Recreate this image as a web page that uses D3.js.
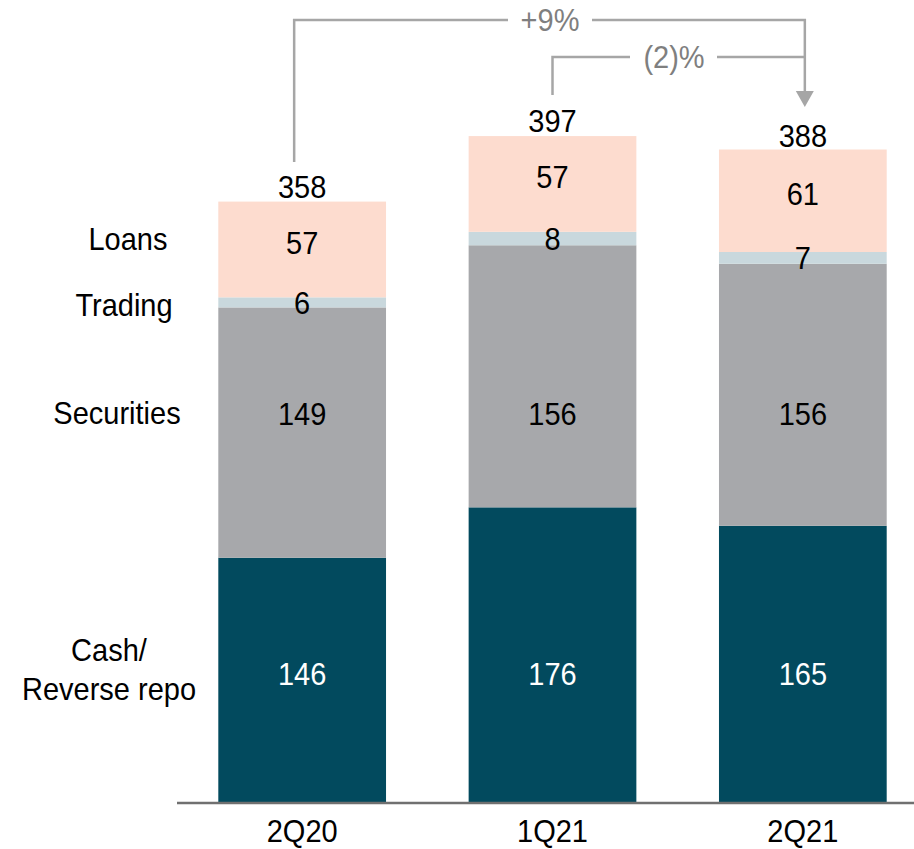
<!DOCTYPE html>
<html>
<head>
<meta charset="utf-8">
<script src="https://cdn.jsdelivr.net/npm/d3@7"></script>
<style>
  body { margin: 0; background: #fff; }
  text { font-family: "Liberation Sans", Arial, sans-serif; }
</style>
</head>
<body>
<div id="chart"></div>
<script>
// Categories and series (bottom to top)
var quarters = ["2Q20", "1Q21", "2Q21"];
var cash = [146, 176, 165];
var securities = [149, 156, 156];
var trading = [6, 8, 7];
var loans = [57, 57, 61];
// reported totals (rounded, so 2Q21 is not the plain sum)
var totals = [358, 397, 388];
var seriesNames = ["Cash/\nReverse repo", "Securities", "Trading", "Loans"];
var seriesColors = ["#024a5e", "#a7a8ab", "#c9d8dd", "#fddccf"];
var changeLabels = ["+9%", "(2)%"];

var svgWidth = 914;
var svgHeight = 849;
var fontSize = "29px";
var stretchY = 1.08;

var svg = d3.select("#chart")
  .append("svg")
  .attr("width", svgWidth)
  .attr("height", svgHeight);

// text in the source is a bit taller than plain Arial, stretch it about its anchor
function stretch(sel) {
  sel.attr("transform", function () {
    var x = +d3.select(this).attr("x") || 0;
    var y = +d3.select(this).attr("y") || 0;
    return `translate(${x},${y}) scale(1,${stretchY}) translate(${-x},${-y})`;
  });
}

// Build rows for the stack
var rows = quarters.map(function (q, i) {
  return { quarter: q, s0: cash[i], s1: securities[i], s2: trading[i], s3: loans[i] };
});
var keys = ["s0", "s1", "s2", "s3"];
var stacked = d3.stack().keys(keys)(rows);

// Scales
var xScale = d3.scaleBand()
  .domain(quarters)
  .range([177, 928])
  .paddingInner(0.33)
  .paddingOuter(0.165);

var yScale = d3.scaleLinear()
  .domain([0, 478])
  .range([803, 0]);

// Bars
var layers = svg.selectAll("g.layer")
  .data(stacked)
  .enter()
  .append("g")
  .attr("class", "layer")
  .attr("fill", (d, i) => seriesColors[i]);

layers.selectAll("rect")
  .data(d => d)
  .enter()
  .append("rect")
  .attr("x", d => xScale(d.data.quarter))
  .attr("y", d => yScale(d[1]))
  .attr("width", xScale.bandwidth())
  .attr("height", d => yScale(d[0]) - yScale(d[1]));

// Value labels: cash & securities sit in the band shared by all bars,
// trading & loans sit in the middle of their own segment
var labelShift = [-7, 6, 0, -7];
stacked.forEach(function (layer, i) {
  var commonLow = d3.max(layer, d => d[0]);
  var commonHigh = d3.min(layer, d => d[1]);
  svg.append("g").selectAll("text")
    .data(layer)
    .enter()
    .append("text")
    .attr("x", d => xScale(d.data.quarter) + xScale.bandwidth() / 2)
    .attr("y", function (d) {
      var mid = i < 2 ? (commonLow + commonHigh) / 2 : (d[0] + d[1]) / 2;
      return yScale(mid) + labelShift[i];
    })
    .attr("dy", "0.36em")
    .attr("text-anchor", "middle")
    .style("font-size", fontSize)
    .style("fill", i === 0 ? "#ffffff" : "#000000")
    .text(d => d.data[keys[i]])
    .call(stretch);
});

// Totals above bars
svg.append("g").selectAll("text")
  .data(rows)
  .enter()
  .append("text")
  .attr("x", d => xScale(d.quarter) + xScale.bandwidth() / 2)
  .attr("y", (d, i) => yScale(totals[i]) - 4)
  .attr("text-anchor", "middle")
  .style("font-size", fontSize)
  .style("fill", "#000")
  .text((d, i) => totals[i])
  .call(stretch);

// Bottom axis
var bottomAxis = d3.axisBottom(xScale).tickSize(0).tickPadding(17);
var axisG = svg.append("g")
  .attr("transform", `translate(0, ${yScale(0)})`)
  .call(bottomAxis);
axisG.select(".domain")
  .attr("d", "M177,0H914")
  .attr("stroke", "#707070")
  .attr("stroke-width", 2.5);
axisG.selectAll("text")
  .style("font-size", fontSize)
  .style("fill", "#000")
  .attr("font-family", null)
  .call(stretch);

// Series names on the left, level with the 2Q20 labels
var nameX = [109, 117, 124, 128];
var nameY = [669, 413, 305, 239];
seriesNames.forEach(function (name, i) {
  var lines = name.split("\n");
  var t = svg.append("text")
    .attr("x", nameX[i])
    .attr("y", nameY[i])
    .attr("text-anchor", "middle")
    .style("font-size", fontSize)
    .style("fill", "#000");
  lines.forEach(function (ln, j) {
    t.append("tspan")
      .attr("x", nameX[i])
      .attr("y", nameY[i] + (j - (lines.length - 1) / 2) * 36)
      .attr("dy", "0.36em")
      .text(ln);
  });
  t.call(stretch);
});

// Change brackets
var gray = "#a6a6a6";
var cx = q => xScale(q) + xScale.bandwidth() / 2;
var endX = cx("2Q21") + 2;

svg.append("path")
  .attr("d", `M${cx("2Q20") - 8},162V20H508M592,20H${endX}V94`)
  .attr("fill", "none")
  .attr("stroke", gray)
  .attr("stroke-width", 2.5);

svg.append("path")
  .attr("d", `M${cx("1Q21")},95V57H630M717,57H${endX}`)
  .attr("fill", "none")
  .attr("stroke", gray)
  .attr("stroke-width", 2.5);

svg.append("path")
  .attr("d", `M${endX - 9},91L${endX + 9},91L${endX},107Z`)
  .attr("fill", gray);

svg.append("text")
  .attr("x", 550)
  .attr("y", 20)
  .attr("dy", "0.36em")
  .attr("text-anchor", "middle")
  .style("font-size", fontSize)
  .style("fill", "#7f7f7f")
  .text(changeLabels[0])
  .call(stretch);

svg.append("text")
  .attr("x", 674)
  .attr("y", 57)
  .attr("dy", "0.36em")
  .attr("text-anchor", "middle")
  .style("font-size", fontSize)
  .style("fill", "#7f7f7f")
  .text(changeLabels[1])
  .call(stretch);
</script>
</body>
</html>
